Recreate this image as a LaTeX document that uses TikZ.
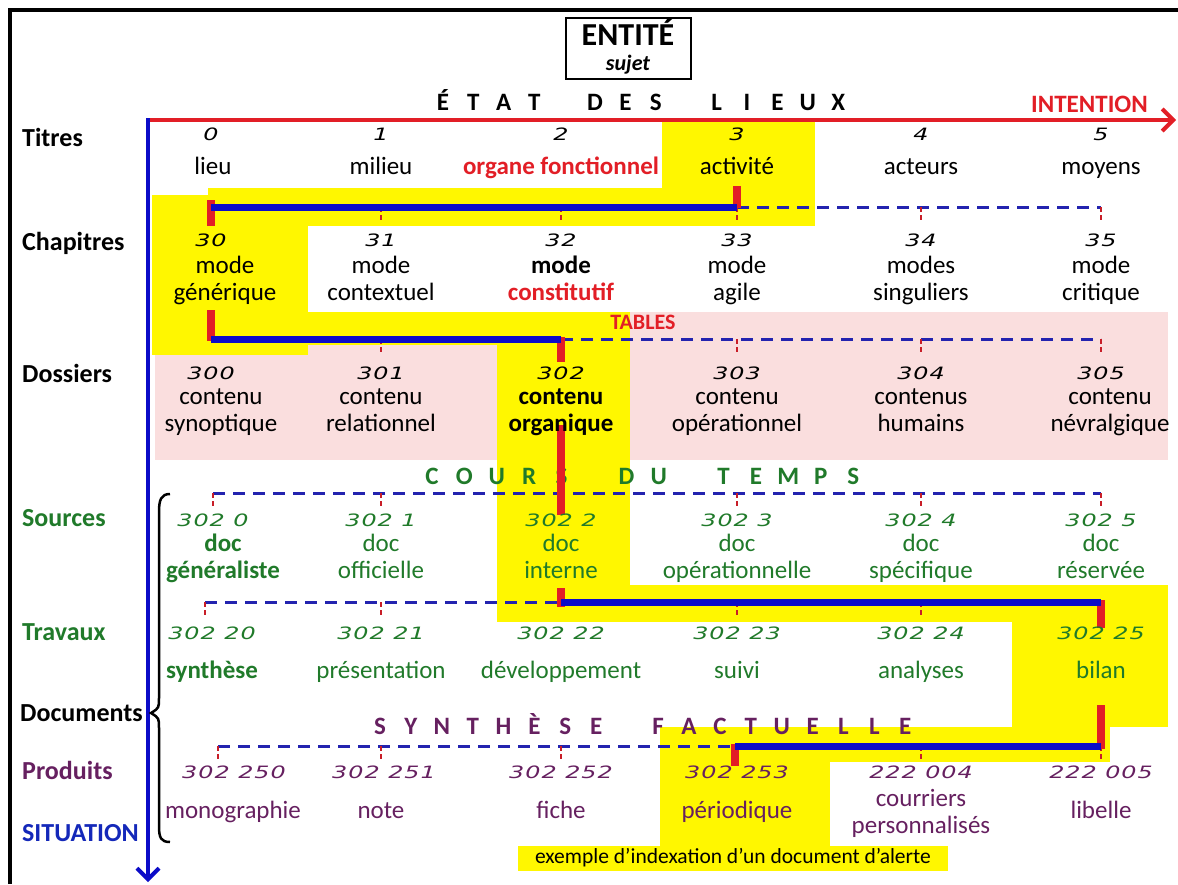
\documentclass[tikz,border=0pt]{standalone}
\usepackage{fontspec}
\setmainfont{Carlito}
\newfontfamily\numfont[LetterSpace=6,FakeStretch=1.4]{DejaVu Sans}
\usetikzlibrary{arrows.meta}
\definecolor{hl}{RGB}{255,247,0}
\definecolor{pinkbg}{RGB}{250,222,222}
\definecolor{myred}{RGB}{226,30,38}
\definecolor{myblue}{RGB}{12,12,200}
\definecolor{dashblue}{RGB}{35,35,175}
\definecolor{dgreen}{RGB}{32,122,42}
\definecolor{purp}{RGB}{102,32,96}
\definecolor{ticred}{RGB}{200,30,40}
\definecolor{sitblue}{RGB}{20,40,185}
\tikzset{
  num/.style={font=\numfont\itshape\fontsize{17}{17}\selectfont, inner sep=0, text height=12.5, text depth=0},
  lab/.style={font=\fontsize{25}{27}\selectfont, align=center, inner sep=0, text height=18, text depth=6},
  labtwo/.style={lab, text height=45, text depth=6},
  rowlab/.style={font=\bfseries\fontsize{26}{26}\selectfont, anchor=west, inner sep=0},
  bar/.style={myblue, line width=7},
  rbar/.style={myred, line width=8},
  dline/.style={dashblue, line width=3, dash pattern=on 12 off 8},
  tic/.style={ticred, line width=2.5, dash pattern=on 5 off 3},
  spaced/.style={font=\bfseries\fontsize{25}{25}\selectfont, inner sep=0, anchor=base},
}
\begin{document}
\begin{tikzpicture}[x=1pt,y=-1pt]
\useasboundingbox (0,0) rectangle (1178,884);
% ---------- backgrounds
\fill[pinkbg] (155,312) rectangle (1168,460);
\fill[hl] (662,122) rectangle (815,226);
\fill[hl] (208,188) rectangle (815,226);
\fill[hl] (152,195) rectangle (308,355);
\fill[hl] (152,312) rectangle (630,345);
\fill[hl] (497,312) rectangle (630,622);
\fill[hl] (497,585) rectangle (1168,622);
\fill[hl] (1012,585) rectangle (1168,727);
\fill[hl] (660,727) rectangle (1110,762);
\fill[hl] (660,727) rectangle (830,848);
\fill[hl] (518,846) rectangle (948,871);
% ---------- frame
\draw[line width=4] (10,884) -- (10,10) -- (1178,10);
% ---------- title box
\node[draw, line width=2, minimum width=125, minimum height=61, inner sep=0] (entite) at (628,48) {};
\node[font=\bfseries\fontsize{32}{32}\selectfont, inner sep=0, anchor=base] (entiteT) at (628,45) {ENTITÉ};
\node[font=\bfseries\itshape\fontsize{22}{22}\selectfont, inner sep=0, anchor=base] (sujetT) at (628,70) {sujet};
% ---------- letter-spaced headings
\foreach \i/\ch in {0/É,1/T,2/A,3/T,5/D,6/E,7/S,9/L,10/I,11/E,12/U,13/X}
  \node[spaced] (etat\i) at (443+30.4*\i,110) {\ch};
\foreach \i/\ch in {0/C,1/O,2/U,3/R,4/S,6/D,7/U,9/T,10/E,11/M,12/P,13/S}
  \node[spaced, text=dgreen] (cours\i) at (432+32.4*\i,484) {\ch};
\foreach \i/\ch in {0/S,1/Y,2/N,3/T,4/H,5/È,6/S,7/E,9/F,10/A,11/C,12/T,13/U,14/E,15/L,16/L,17/E}
  \node[spaced, text=purp] (synth\i) at (380+30.9*\i,734) {\ch};
\node[font=\bfseries\fontsize{25}{25}\selectfont, text=myred, anchor=east, inner sep=0] (intention) at (1148,104) {INTENTION};
\node[font=\bfseries\fontsize{22}{22}\selectfont, text=myred, inner sep=0] (tables) at (643,322) {TABLES};
% ---------- axes
\coordinate (origin) at (148,120);
\coordinate (xend) at (1176,120);
\coordinate (yend) at (148,882);
\draw[myred, line width=4, -{Straight Barb[length=11,width=22,line width=4]}] (origin) -- (xend);
\draw[myblue, line width=4, -{Straight Barb[length=11,width=22,line width=4]}] ([yshift=2]origin) -- (yend);
% ---------- row labels
\node[rowlab] (rTitres) at (22,137) {Titres};
\node[rowlab] (rChap) at (22,243) {Chapitres};
\node[rowlab] (rDoss) at (22,373) {Dossiers};
\node[rowlab, text=dgreen] (rSrc) at (22,518) {Sources};
\node[rowlab, text=dgreen] (rTrav) at (22,632) {Travaux};
\node[rowlab] (rDocs) at (20,713) {Documents};
\node[rowlab, text=purp] (rProd) at (22,770) {Produits};
\node[rowlab, text=sitblue] (rSit) at (22,833) {SITUATION};
% ---------- brace
\draw[line width=2.5] (170,494) .. controls (161,494) and (159,500) .. (159,512) -- (159,698)
  .. controls (159,708) .. (151,713) .. controls (159,718) .. (159,728) -- (159,826)
  .. controls (159,838) and (161,842) .. (170,842);
% ---------- connector coordinates
\foreach \c/\x in {0/211,1/381,2/561,3/737,4/921,5/1101}{
  \foreach \r/\y in {1/207,2/339,3/493,4/602,5/746}{
    \coordinate (p\r\c) at (\x,\y);
  }
}
\coordinate (p30) at (213,493);
\coordinate (p40) at (205,602);
\coordinate (p50) at (218,746);
\coordinate (p53) at (735,746);
% ---------- dashed connectors and ticks
\draw[dline] (p13) -- (p15);
\draw[dline] (p22) -- (p25);
\draw[dline] (p30) -- (p35);
\draw[dline] (p40) -- (p42);
\draw[dline] (p50) -- (p53);
\foreach \q in {p11,p12,p13,p14,p15,p21,p23,p24,p25,p30,p31,p33,p34,p35,p40,p41,p43,p44,p50,p51,p52,p54,p55}
  \draw[tic] (\q) -- ++(0,14);
% ---------- red bars
\draw[rbar] (p10) ++(0,-7) -- ++(0,26);
\draw[rbar] (p13) ++(0,-21) -- ++(0,22);
\draw[rbar] (p20) ++(0,-29) -- ++(0,31);
\draw[rbar] (p22) ++(0,-2) -- ++(0,25);
\draw[rbar] (p32) ++(0,-68) -- ++(0,90);
\draw[rbar] (p42) ++(0,-14) -- ++(0,19);
\draw[rbar] (p45) ++(0,-2) -- ++(0,28);
\draw[rbar] (p55) ++(0,-41) -- ++(0,44);
\draw[rbar] (p53) ++(0,-2) -- ++(0,22);
% ---------- blue bars
\draw[bar] (p10) -- (p13);
\draw[bar] (p20) -- (p22);
\draw[bar] (p42) -- (p45);
\draw[bar] (p53) -- (p55);
% ---------- Titres
\node[num] (n0) at (211,134) {0};
\node[num] (n1) at (381,134) {1};
\node[num] (n2) at (561,134) {2};
\node[num] (n3) at (737,134) {3};
\node[num] (n4) at (921,134) {4};
\node[num] (n5) at (1101,134) {5};
\node[lab] (t0) at (213,168) {lieu};
\node[lab] (t1) at (381,168) {milieu};
\node[lab, text=myred, font=\bfseries\fontsize{25}{27}\selectfont] (t2) at (561,168) {organe fonctionnel};
\node[lab] (t3) at (737,168) {activité};
\node[lab] (t4) at (921,168) {acteurs};
\node[lab] (t5) at (1101,168) {moyens};
% ---------- Chapitres
\node[num] (n30) at (211,240) {30};
\node[num] (n31) at (381,240) {31};
\node[num] (n32) at (561,240) {32};
\node[num] (n33) at (737,240) {33};
\node[num] (n34) at (921,240) {34};
\node[num] (n35) at (1101,240) {35};
\node[labtwo] (c0) at (225,281) {mode\\générique};
\node[labtwo] (c1) at (381,281) {mode\\contextuel};
\node[labtwo] (c2) at (561,281) {\bfseries mode\\\bfseries\color{myred}constitutif};
\node[labtwo] (c3) at (737,281) {mode\\agile};
\node[labtwo] (c4) at (921,281) {modes\\singuliers};
\node[labtwo] (c5) at (1101,281) {mode\\critique};
% ---------- Dossiers
\node[num] (n300) at (211,373) {300};
\node[num] (n301) at (381,373) {301};
\node[num] (n302) at (561,373) {302};
\node[num] (n303) at (737,373) {303};
\node[num] (n304) at (921,373) {304};
\node[num] (n305) at (1101,373) {305};
\node[labtwo] (d0) at (221,412) {contenu\\synoptique};
\node[labtwo] (d1) at (381,412) {contenu\\relationnel};
\node[labtwo, font=\bfseries\fontsize{25}{27}\selectfont] (d2) at (561,412) {contenu\\organique};
\node[labtwo] (d3) at (737,412) {contenu\\opérationnel};
\node[labtwo] (d4) at (921,412) {contenus\\humains};
\node[labtwo] (d5) at (1110,412) {contenu\\névralgique};
% ---------- Sources
\node[num, text=dgreen] (n3020) at (213,520) {302 0};
\node[num, text=dgreen] (n3021) at (381,520) {302 1};
\node[num, text=dgreen] (n3022) at (561,520) {302 2};
\node[num, text=dgreen] (n3023) at (737,520) {302 3};
\node[num, text=dgreen] (n3024) at (921,520) {302 4};
\node[num, text=dgreen] (n3025) at (1101,520) {302 5};
\node[labtwo, text=dgreen, font=\bfseries\fontsize{25}{27}\selectfont] (s0) at (223,559) {doc\\généraliste};
\node[labtwo, text=dgreen] (s1) at (381,559) {doc\\officielle};
\node[labtwo, text=dgreen] (s2) at (561,559) {doc\\interne};
\node[labtwo, text=dgreen] (s3) at (737,559) {doc\\opérationnelle};
\node[labtwo, text=dgreen] (s4) at (921,559) {doc\\spécifique};
\node[labtwo, text=dgreen] (s5) at (1101,559) {doc\\réservée};
% ---------- Travaux
\node[num, text=dgreen] (n30220) at (212,633) {302 20};
\node[num, text=dgreen] (n30221) at (381,633) {302 21};
\node[num, text=dgreen] (n30222) at (561,633) {302 22};
\node[num, text=dgreen] (n30223) at (737,633) {302 23};
\node[num, text=dgreen] (n30224) at (921,633) {302 24};
\node[num, text=dgreen] (n30225) at (1101,633) {302 25};
\node[lab, text=dgreen, font=\bfseries\fontsize{25}{27}\selectfont] (w0) at (212,672) {synthèse};
\node[lab, text=dgreen] (w1) at (381,672) {présentation};
\node[lab, text=dgreen] (w2) at (561,672) {développement};
\node[lab, text=dgreen] (w3) at (737,672) {suivi};
\node[lab, text=dgreen] (w4) at (921,672) {analyses};
\node[lab, text=dgreen] (w5) at (1101,672) {bilan};
% ---------- Produits
\node[num, text=purp] (n302250) at (234,772) {302 250};
\node[num, text=purp] (n302251) at (384,772) {302 251};
\node[num, text=purp] (n302252) at (561,772) {302 252};
\node[num, text=purp] (n302253) at (737,772) {302 253};
\node[num, text=purp] (n222004) at (921,772) {222 004};
\node[num, text=purp] (n222005) at (1101,772) {222 005};
\node[lab, text=purp] (q0) at (233,812) {monographie};
\node[lab, text=purp] (q1) at (381,812) {note};
\node[lab, text=purp] (q2) at (561,812) {fiche};
\node[lab, text=purp] (q3) at (737,812) {périodique};
\node[labtwo, text=purp] (q4) at (921,814) {courriers\\personnalisés};
\node[lab, text=purp] (q5) at (1101,812) {libelle};
\node[font=\fontsize{21.5}{21.5}\selectfont, inner sep=0] (exemple) at (733,858) {exemple d’indexation d’un document d’alerte};
\end{tikzpicture}
\end{document}
